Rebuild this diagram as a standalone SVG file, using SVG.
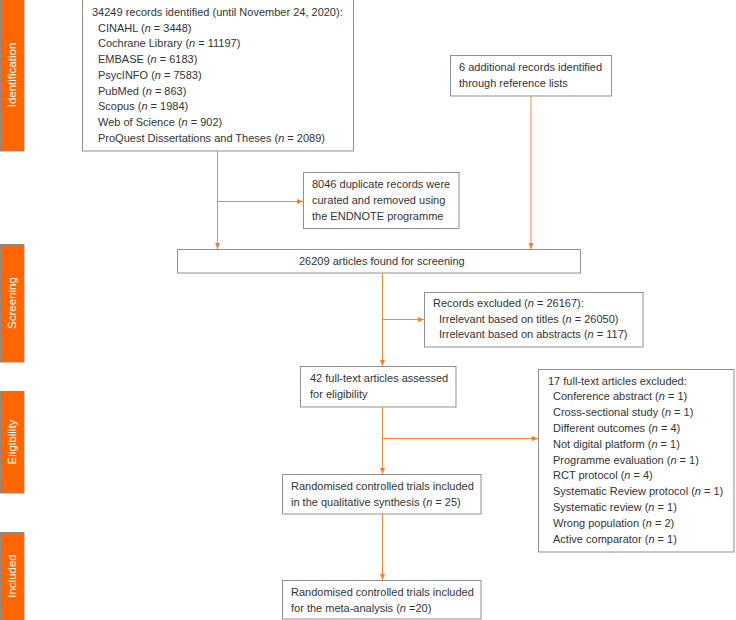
<svg xmlns="http://www.w3.org/2000/svg" width="736" height="620" viewBox="0 0 736 620">
<defs>
<style>
.bar{fill:#ff6600;stroke:#8a8a8a;stroke-width:1}
.bt{fill:#ffffff;font-family:"Liberation Sans",Arial,sans-serif;font-size:11.5px;text-anchor:middle}
.box{fill:#ffffff;stroke:#8f8f8f;stroke-width:1}
.t{fill:#333333;font-family:"Liberation Sans",Arial,sans-serif;font-size:11px}
.con{stroke:#ff8533;stroke-width:1;fill:none}
</style>
<marker id="ah" markerWidth="6" markerHeight="6" refX="6" refY="3" orient="auto" markerUnits="userSpaceOnUse">
<path d="M0,0.5 L6,3 L0,5.5 Z" fill="#ff7a1f"/>
</marker>
</defs>
<g id="stages">
<g id="stage-identification"><rect class="bar" x="0.5" y="-1" width="23.5" height="152"/><text class="bt" transform="translate(16,75) rotate(-90)">Identification</text></g>
<g id="stage-screening"><rect class="bar" x="0.5" y="244.5" width="23.5" height="117.5"/><text class="bt" transform="translate(16,303) rotate(-90)">Screening</text></g>
<g id="stage-eligibility"><rect class="bar" x="0.5" y="391.5" width="23.5" height="101.5"/><text class="bt" transform="translate(16,442) rotate(-90)">Eligibility</text></g>
<g id="stage-included"><rect class="bar" x="0.5" y="532.5" width="23.5" height="90"/><text class="bt" transform="translate(16,576) rotate(-90)">Included</text></g>
</g>
<g id="connectors">
<path class="con" d="M217.5,151 V249" marker-end="url(#ah)"/>
<path class="con" d="M217.5,201.5 H303" marker-end="url(#ah)"/>
<path class="con" d="M531,96 V249" marker-end="url(#ah)"/>
<path class="con" d="M382.5,273 V366" marker-end="url(#ah)"/>
<path class="con" d="M382.5,319.5 H424" marker-end="url(#ah)"/>
<path class="con" d="M382.5,407 V474" marker-end="url(#ah)"/>
<path class="con" d="M382.5,438.5 H538" marker-end="url(#ah)"/>
<path class="con" d="M382.5,514 V580" marker-end="url(#ah)"/>
</g>
<g id="n-records">
<rect class="box" x="82.5" y="-1" width="271" height="152"/>
<text class="t" x="92" y="16">34249 records identified (until November 24, 2020):</text>
<text class="t" x="98" y="31.7">CINAHL (<tspan font-style="italic">n</tspan> = 3448)</text>
<text class="t" x="98" y="47.4">Cochrane Library (<tspan font-style="italic">n</tspan> = 11197)</text>
<text class="t" x="98" y="63.1">EMBASE (<tspan font-style="italic">n</tspan> = 6183)</text>
<text class="t" x="98" y="78.8">PsycINFO (<tspan font-style="italic">n</tspan> = 7583)</text>
<text class="t" x="98" y="94.5">PubMed (<tspan font-style="italic">n</tspan> = 863)</text>
<text class="t" x="98" y="110.2">Scopus (<tspan font-style="italic">n</tspan> = 1984)</text>
<text class="t" x="98" y="125.9">Web of Science (<tspan font-style="italic">n</tspan> = 902)</text>
<text class="t" x="98" y="141.6">ProQuest Dissertations and Theses (<tspan font-style="italic">n</tspan> = 2089)</text>
</g>
<g id="n-additional">
<rect class="box" x="450.5" y="55.5" width="161" height="40.5"/>
<text class="t" x="459" y="71">6 additional records identified</text>
<text class="t" x="459" y="87">through reference lists</text>
</g>
<g id="n-duplicates">
<rect class="box" x="303.5" y="172.5" width="155.5" height="56"/>
<text class="t" x="312" y="188">8046 duplicate records were</text>
<text class="t" x="312" y="204">curated and removed using</text>
<text class="t" x="312" y="219.5">the ENDNOTE programme</text>
</g>
<g id="n-screening">
<rect class="box" x="177.5" y="249.5" width="403" height="23.5"/>
<text class="t" x="299" y="265">26209 articles found for screening</text>
</g>
<g id="n-excluded">
<rect class="box" x="424.5" y="292.5" width="218.5" height="54.5"/>
<text class="t" x="433" y="307">Records excluded (<tspan font-style="italic">n</tspan> = 26167):</text>
<text class="t" x="439" y="322.5">Irrelevant based on titles (<tspan font-style="italic">n</tspan> = 26050)</text>
<text class="t" x="439" y="338">Irrelevant based on abstracts (<tspan font-style="italic">n</tspan> = 117)</text>
</g>
<g id="n-fulltext">
<rect class="box" x="300.5" y="366.5" width="155.5" height="40.5"/>
<text class="t" x="310" y="381.5">42 full-text articles assessed</text>
<text class="t" x="310" y="397.5">for eligibility</text>
</g>
<g id="n-ft-excluded">
<rect class="box" x="538.5" y="369.5" width="195.5" height="182.5"/>
<text class="t" x="548" y="384.5">17 full-text articles excluded:</text>
<text class="t" x="553" y="400.3">Conference abstract (<tspan font-style="italic">n</tspan> = 1)</text>
<text class="t" x="553" y="416.1">Cross-sectional study (<tspan font-style="italic">n</tspan> = 1)</text>
<text class="t" x="553" y="431.9">Different outcomes (<tspan font-style="italic">n</tspan> = 4)</text>
<text class="t" x="553" y="447.7">Not digital platform (<tspan font-style="italic">n</tspan> = 1)</text>
<text class="t" x="553" y="463.5">Programme evaluation (<tspan font-style="italic">n</tspan> = 1)</text>
<text class="t" x="553" y="479.3">RCT protocol (<tspan font-style="italic">n</tspan> = 4)</text>
<text class="t" x="553" y="495.1">Systematic Review protocol (<tspan font-style="italic">n</tspan> = 1)</text>
<text class="t" x="553" y="510.9">Systematic review (<tspan font-style="italic">n</tspan> = 1)</text>
<text class="t" x="553" y="526.7">Wrong population (<tspan font-style="italic">n</tspan> = 2)</text>
<text class="t" x="553" y="542.5">Active comparator (<tspan font-style="italic">n</tspan> = 1)</text>
</g>
<g id="n-qualitative">
<rect class="box" x="282.5" y="474.5" width="198.5" height="39.5"/>
<text class="t" x="291" y="489.5">Randomised controlled trials included</text>
<text class="t" x="291" y="505.5">in the qualitative synthesis (<tspan font-style="italic">n</tspan> = 25)</text>
</g>
<g id="n-meta">
<rect class="box" x="282.5" y="580.5" width="198.5" height="38.5"/>
<text class="t" x="291" y="595.5">Randomised controlled trials included</text>
<text class="t" x="291" y="611.5">for the meta-analysis (<tspan font-style="italic">n</tspan> =20)</text>
</g>
</svg>
